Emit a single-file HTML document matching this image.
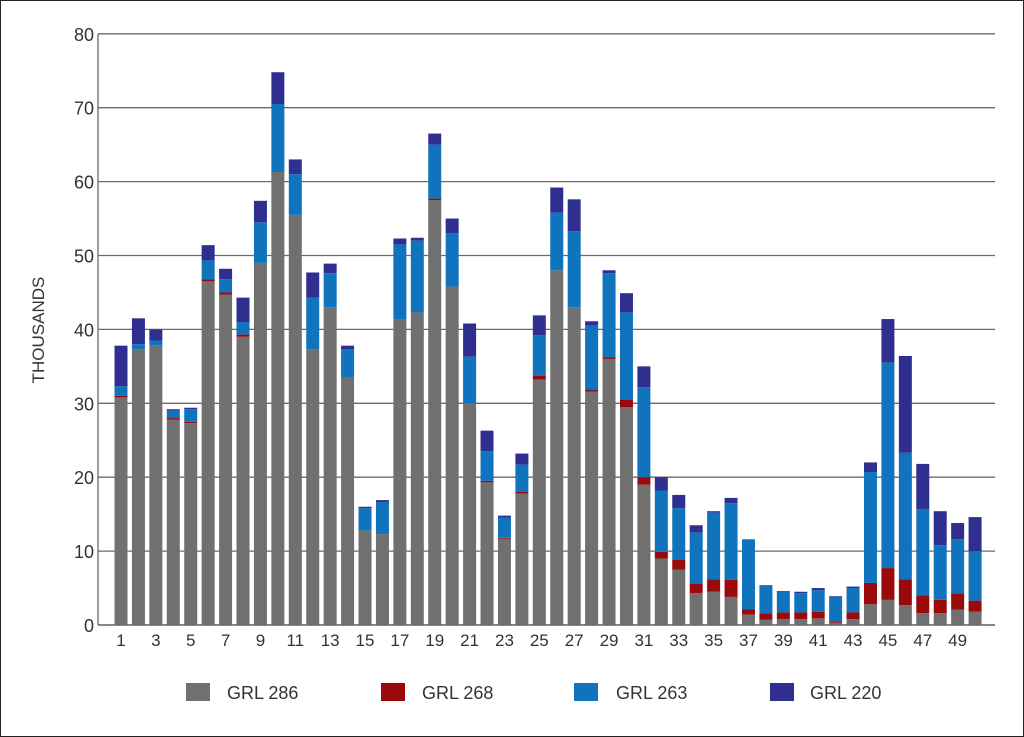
<!DOCTYPE html>
<html><head><meta charset="utf-8"><style>
html,body{margin:0;padding:0;background:#fff}
svg{display:block}
text{font-family:"Liberation Sans",sans-serif;fill:#333}
</style></head><body>
<svg id="s" width="1024" height="737" xmlns="http://www.w3.org/2000/svg">
<rect x="0.5" y="0.5" width="1023" height="736" fill="#fff" stroke="#222" stroke-width="1"/>
<g id="grid"></g>
<g id="bars"></g>
<text x="44" y="330" font-size="17" text-anchor="middle" transform="rotate(-90 44 330)">THOUSANDS</text>
<rect x="186" y="683" width="24" height="18" fill="#707070"/>
<text x="227" y="699" font-size="18">GRL 286</text>
<rect x="381" y="683" width="24" height="18" fill="#9b0a0a"/>
<text x="422" y="699" font-size="18">GRL 268</text>
<rect x="574" y="683" width="24" height="18" fill="#0f74bd"/>
<text x="616" y="699" font-size="18">GRL 263</text>
<rect x="770" y="683" width="24" height="18" fill="#2e2f8f"/>
<text x="810" y="699" font-size="18">GRL 220</text>
</svg>
<script>
var NS="http://www.w3.org/2000/svg";
function el(p,t,a,txt){var e=document.createElementNS(NS,t);for(var k in a)e.setAttribute(k,a[k]);if(txt!==undefined)e.textContent=txt;p.appendChild(e);return e;}
var g=document.getElementById("grid"),b=document.getElementById("bars");
function Y(v){return 625-v*7.39;}
for(var i=0;i<=8;i++){var y=Y(i*10);
 el(g,"line",{x1:98,x2:995,y1:y,y2:y,stroke:"#6a6a6a","stroke-width":1.3});
 el(g,"text",{x:94,y:y+7,"font-size":18,"text-anchor":"end"},String(i*10));}
el(g,"line",{x1:98,x2:98,y1:34,y2:625,stroke:"#6a6a6a","stroke-width":1.3});
var d=[[30.8,31,32.3,37.8],[37.3,37.3,38,41.5],[37.8,37.8,38.5,40],[27.8,28,29,29.2],[27.3,27.5,29.2,29.4],
[46.5,46.8,49.3,51.4],[44.7,45,46.8,48.2],[39,39.3,41,44.3],[49,49,54.5,57.4],[61.3,61.3,70.5,74.8],
[55.5,55.5,61,63],[37.3,37.3,44.3,47.7],[43,43,47.6,48.9],[33.5,33.5,37.3,37.8],[12.8,12.8,15.8,16],
[12.3,12.3,16.6,16.9],[41.3,41.3,51.5,52.3],[42.3,42.3,52,52.4],[57.5,57.7,65,66.5],[45.8,45.8,53,55],
[30,30,36.3,40.8],[19.3,19.5,23.5,26.3],[11.7,11.8,14.5,14.8],[17.8,18,21.7,23.2],[33.2,33.7,39.2,41.9],
[48,48,55.8,59.2],[43,43,53.3,57.6],[31.6,31.9,40.5,41.1],[36,36.2,47.6,48],[29.5,30.5,42.3,44.9],
[19,20,32.2,35],[9,9.9,18.2,20],[7.5,8.8,15.8,17.6],[4.3,5.6,12.5,13.5],[4.5,6.2,15.2,15.4],
[3.8,6.1,16.5,17.2],[1.4,2.1,11.6,11.6],[0.7,1.6,5.4,5.4],[0.8,1.7,4.5,4.6],[0.8,1.7,4.3,4.5],
[0.9,1.8,4.7,5.0],[0.3,0.5,3.8,3.9],[0.8,1.7,5.0,5.2],[2.8,5.7,20.7,22],[3.4,7.7,35.5,41.4],
[2.7,6.2,23.3,36.4],[1.6,4.0,15.7,21.8],[1.6,3.4,10.8,15.4],[2.1,4.3,11.6,13.8],[1.8,3.3,10,14.6]];
var cols=["#707070","#9b0a0a","#0f74bd","#2e2f8f"];
for(var i=0;i<50;i++){var cx=121+i*17.43,prev=0;
 for(var j=0;j<4;j++){var v=d[i][j];if(v>prev){el(b,"rect",{x:cx-6.5,y:Y(v),width:13,height:Y(prev)-Y(v),fill:cols[j]});}prev=Math.max(prev,v);}
 if(i%2==0)el(b,"text",{x:cx,y:646,"font-size":17,"text-anchor":"middle"},String(i+1));}
el(b,"line",{x1:98,x2:995,y1:625,y2:625,stroke:"#6a6a6a","stroke-width":1.5});
</script>
</body></html>
